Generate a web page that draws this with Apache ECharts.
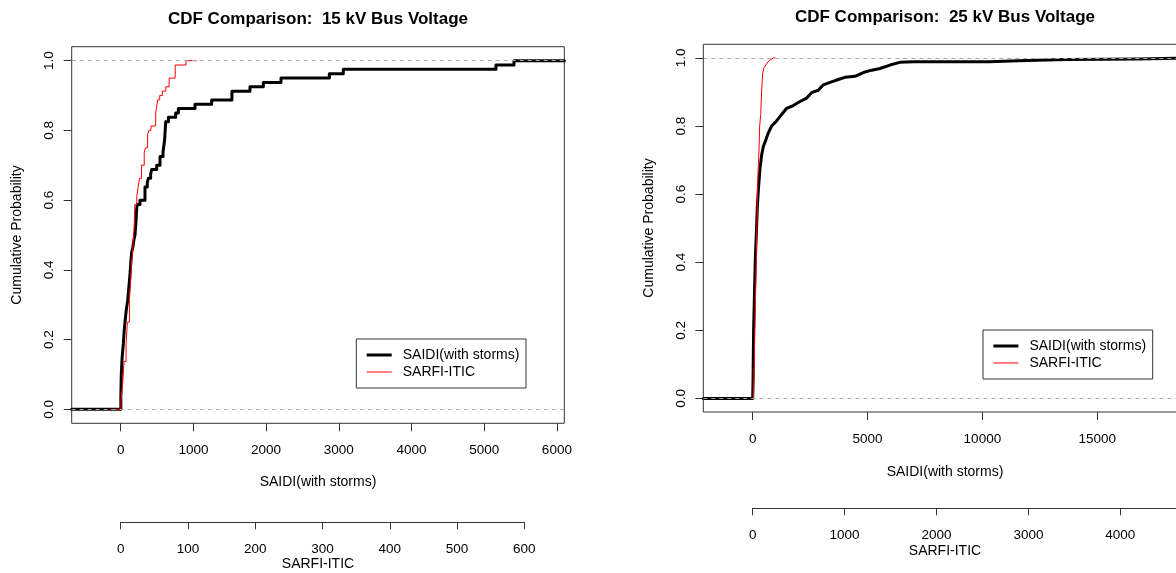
<!DOCTYPE html>
<html>
<head>
<meta charset="utf-8">
<script src="https://cdn.jsdelivr.net/npm/echarts@6/dist/echarts.min.js"></script>
<style>
html,body{margin:0;padding:0;background:#fff;}
#chart{width:1176px;height:573px;}
</style>
</head>
<body>
<div id="chart"></div>
<script>
// ---------- Data ----------
// Left panel: 15 kV Bus Voltage
const saidi15X = [-674, 2, 8, 20, 36, 48, 59, 78, 96, 112, 128, 140, 151, 165, 183, 197, 210, 220, 228, 265, 334, 366, 380, 412, 426, 495, 541, 582, 605, 619, 656, 756, 793, 1022, 1251, 1530, 1778, 1962, 2205, 2870, 3062, 5162, 5410, 6102];
const saidi15Y = [0, 0.0375, 0.1, 0.15, 0.1875, 0.225, 0.25, 0.2875, 0.3125, 0.35, 0.3875, 0.425, 0.45, 0.4625, 0.4875, 0.5, 0.5375, 0.575, 0.5875, 0.6, 0.6375, 0.65, 0.6625, 0.675, 0.6875, 0.7, 0.725, 0.7375, 0.775, 0.825, 0.8375, 0.85, 0.8625, 0.875, 0.8875, 0.9125, 0.925, 0.9375, 0.95, 0.9625, 0.975, 0.9875, 1, 1];
const sarfi15X = [-16, 0.4, 3, 5, 8, 10, 13, 15, 16, 18, 20, 21, 24, 26, 28, 31, 35, 37, 40, 42, 45, 52, 53, 55, 58, 62, 67, 72, 81, 97, 113];
const sarfi15Y = [0, 0.025, 0.075, 0.1375, 0.1875, 0.25, 0.3125, 0.375, 0.4125, 0.4625, 0.525, 0.5875, 0.6125, 0.6375, 0.6625, 0.7, 0.7375, 0.75, 0.7875, 0.8, 0.8125, 0.85, 0.8625, 0.8875, 0.9, 0.9125, 0.925, 0.95, 0.9875, 1, 1];
// Right panel: 25 kV Bus Voltage
const saidi25X = [-2150, 0, 15, 40, 75, 110, 150, 173, 200, 245, 318, 390, 463, 579, 680, 825, 1043, 1261, 1478, 1768, 2058, 2349, 2566, 2857, 3075, 3365, 3655, 4018, 4454, 4817, 5180, 5543, 5978, 6400, 7000, 10300, 10300, 11560, 11560, 13670, 13670, 16760, 16760, 18900];
const saidi25Y = [0, 0, 0.05, 0.2, 0.3, 0.4, 0.47, 0.51, 0.56, 0.61, 0.675, 0.715, 0.74, 0.76, 0.78, 0.8, 0.815, 0.834, 0.852, 0.86, 0.872, 0.882, 0.898, 0.905, 0.921, 0.928, 0.935, 0.943, 0.946, 0.957, 0.964, 0.969, 0.979, 0.987, 0.989, 0.989, 0.992, 0.992, 0.995, 0.995, 0.997, 0.997, 1, 1];
const sarfi25X = [-25, 8, 12, 20, 28, 35, 42, 49, 54, 62, 69, 76, 87, 98, 109, 123, 145, 170, 196, 225, 246];
const sarfi25Y = [0, 0, 0.05, 0.15, 0.26, 0.36, 0.46, 0.55, 0.63, 0.69, 0.73, 0.8, 0.834, 0.907, 0.956, 0.971, 0.98, 0.99, 0.995, 1, 1];
// Tick labels
const saidi15Ticks = [0, 1000, 2000, 3000, 4000, 5000, 6000];
const sarfi15Ticks = [0, 100, 200, 300, 400, 500, 600];
const saidi25Ticks = [0, 5000, 10000, 15000];
const sarfi25Ticks = [0, 1000, 2000, 3000, 4000];
const probTicks = [0, 0.2, 0.4, 0.6, 0.8, 1.0];

const titles = ['CDF Comparison:  15 kV Bus Voltage', 'CDF Comparison:  25 kV Bus Voltage'];
const xTitle = 'SAIDI(with storms)';
const x2Title = 'SARFI-ITIC';
const yTitle = 'Cumulative Probability';
const legendNames = ['SAIDI(with storms)', 'SARFI-ITIC'];

// ---------- Chart ----------
const FONT = "'Liberation Sans', Arial, Helvetica, sans-serif";
const AX = '#333';
const pairs = (xs, ys) => xs.map((x, i) => [x, ys[i]]);

function mainX(grid, min, max, ticks) {
  return {
    type: 'value', gridIndex: grid, min: min, max: max, position: 'bottom',
    axisLine: { show: false, onZero: false },
    splitLine: { show: false },
    axisTick: { show: true, inside: false, length: 8, lineStyle: { color: AX }, customValues: ticks },
    axisLabel: { show: true, margin: 20, fontFamily: FONT, fontSize: 13.5, color: '#000', lineHeight: 14, customValues: ticks, formatter: v => String(v) }
  };
}
function hiddenX(grid, min, max) {
  return { type: 'value', gridIndex: grid, min: min, max: max, position: 'top', show: false, axisLine: { onZero: false }, splitLine: { show: false } };
}
function secX(grid, max, ticks) {
  return {
    type: 'value', gridIndex: grid, min: 0, max: max, position: 'bottom',
    axisLine: { show: true, onZero: false, lineStyle: { color: AX, width: 1 } },
    splitLine: { show: false },
    axisTick: { show: true, inside: false, length: 7, lineStyle: { color: AX }, customValues: ticks },
    axisLabel: { show: true, margin: 20, fontFamily: FONT, fontSize: 13.5, color: '#000', lineHeight: 14, customValues: ticks, formatter: v => String(v) }
  };
}
function mainY(grid) {
  return {
    type: 'value', gridIndex: grid, min: -0.04, max: 1.04, position: 'left',
    axisLine: { show: false, onZero: false },
    splitLine: { show: false },
    axisTick: { show: true, inside: false, length: 8, lineStyle: { color: AX }, customValues: probTicks },
    axisLabel: { show: true, rotate: 90, margin: 15, fontFamily: FONT, fontSize: 13.5, color: '#000', lineHeight: 14, customValues: probTicks, formatter: v => v.toFixed(1) }
  };
}
function hiddenY(grid) {
  return { type: 'value', gridIndex: grid, min: 0, max: 1, show: false, axisLine: { onZero: false }, splitLine: { show: false } };
}
function dashSeries(xi, yi) {
  return {
    type: 'line', xAxisIndex: xi, yAxisIndex: yi, data: [], z: 6, silent: true,
    markLine: {
      silent: true, symbol: ['none', 'none'], label: { show: false },
      lineStyle: { color: '#a8a8a8', type: [4, 4], width: 1 },
      data: [{ yAxis: 0 }, { yAxis: 1 }], animation: false
    }
  };
}
function legendBox(x, y) {
  return [
    { type: 'rect', shape: { x: x, y: y, width: 169.7, height: 49 }, style: { fill: '#fff', stroke: AX, lineWidth: 1 }, z: 10 },
    { type: 'line', shape: { x1: x + 10.4, y1: y + 16, x2: x + 35.4, y2: y + 16 }, style: { stroke: '#000', lineWidth: 3 }, z: 11 },
    { type: 'line', shape: { x1: x + 10.4, y1: y + 33, x2: x + 35.4, y2: y + 33 }, style: { stroke: '#ff0000', lineWidth: 1 }, z: 11 },
    { type: 'text', x: x + 46.4, y: y + 16, style: { text: legendNames[0], font: '14px ' + FONT, fill: '#000', textAlign: 'left', textVerticalAlign: 'middle' }, z: 11 },
    { type: 'text', x: x + 46.4, y: y + 33, style: { text: legendNames[1], font: '14px ' + FONT, fill: '#000', textAlign: 'left', textVerticalAlign: 'middle' }, z: 11 }
  ];
}
function txt(text, x, y, opts) {
  opts = opts || {};
  return {
    type: 'text', x: x, y: y, rotation: opts.rot || 0, z: 12,
    style: { text: text, font: (opts.bold ? 'bold ' : '') + (opts.size || 14) + 'px ' + FONT, fill: '#000', textAlign: 'center', textVerticalAlign: 'middle' }
  };
}

const chart = echarts.init(document.getElementById('chart'), null, { renderer: 'canvas' });
const option = {
  animation: false,
  backgroundColor: '#fff',
  grid: [
    { left: 71.7, top: 46.7, width: 492.6, height: 376.6, show: true, borderColor: AX, borderWidth: 1, backgroundColor: 'transparent', containLabel: false },
    { left: 120.7, top: 521.3, width: 403.6, height: 1, show: false, containLabel: false },
    // right panel continues past the page edge; its frame is drawn below as a graphic rect
    { left: 703.3, top: 44.3, width: 472.7, height: 367.7, show: false, containLabel: false },
    { left: 752.7, top: 507.3, width: 423.3, height: 1, show: false, containLabel: false }
  ],
  xAxis: [
    mainX(0, -674, 6102, saidi15Ticks),
    hiddenX(0, -72.84, 659.5),
    secX(1, 600, sarfi15Ticks),
    mainX(2, -2150, 18429, saidi25Ticks),
    hiddenX(2, -537.5, 4606),
    secX(3, 4606, sarfi25Ticks)
  ],
  yAxis: [mainY(0), hiddenY(1), mainY(2), hiddenY(3)],
  series: [
    { name: legendNames[0], type: 'line', xAxisIndex: 0, yAxisIndex: 0, step: 'end', data: pairs(saidi15X, saidi15Y), symbol: 'none', lineStyle: { color: '#000', width: 3, cap: 'round', join: 'round' }, z: 2, silent: true },
    { name: legendNames[1], type: 'line', xAxisIndex: 1, yAxisIndex: 0, step: 'end', data: pairs(sarfi15X, sarfi15Y), symbol: 'none', lineStyle: { color: '#ff0000', width: 1 }, z: 3, silent: true },
    dashSeries(0, 0),
    { name: legendNames[0], type: 'line', xAxisIndex: 3, yAxisIndex: 2, data: pairs(saidi25X, saidi25Y), symbol: 'none', lineStyle: { color: '#000', width: 3, cap: 'round', join: 'round' }, z: 2, silent: true },
    { name: legendNames[1], type: 'line', xAxisIndex: 4, yAxisIndex: 2, data: pairs(sarfi25X, sarfi25Y), symbol: 'none', lineStyle: { color: '#ff0000', width: 1 }, z: 3, silent: true },
    dashSeries(3, 2)
  ],
  graphic: [
    { type: 'rect', shape: { x: 703.3, y: 44.3, width: 483.5, height: 367.7 }, style: { fill: 'none', stroke: AX, lineWidth: 1 }, z: 9, silent: true },
    txt(titles[0], 318, 19, { bold: true, size: 17 }),
    txt(titles[1], 945, 17, { bold: true, size: 17 }),
    txt(xTitle, 318, 482),
    txt(xTitle, 945, 472),
    txt(x2Title, 318, 564),
    txt(x2Title, 945, 551),
    txt(yTitle, 17, 235, { rot: Math.PI / 2 }),
    txt(yTitle, 649, 228, { rot: Math.PI / 2 })
  ].concat(legendBox(356.3, 339)).concat(legendBox(983, 330))
};
chart.setOption(option);
</script>
</body>
</html>
